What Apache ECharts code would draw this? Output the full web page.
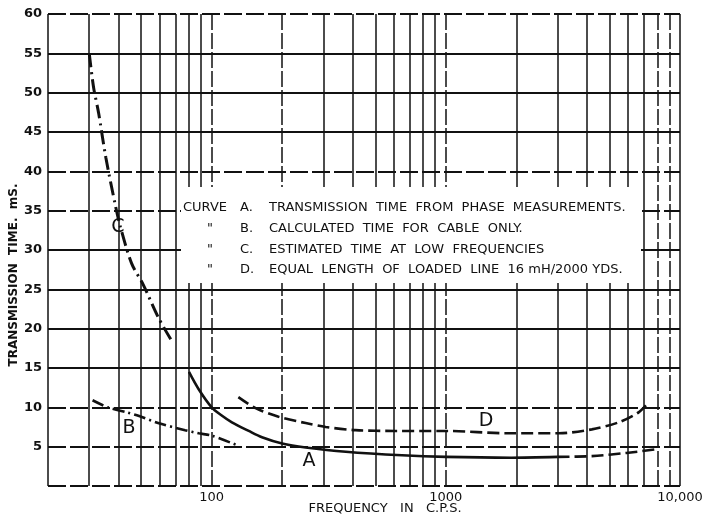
<!DOCTYPE html>
<html>
<head>
<meta charset="utf-8">
<script src="https://cdn.jsdelivr.net/npm/echarts@6/dist/echarts.min.js"></script>
<style>
  html, body { margin: 0; padding: 0; background: #fff; }
  .chart { width: 707px; height: 517px; }
</style>
</head>
<body>
<div class="chart"></div>
<script>
// curve A: transmission time from phase measurements
const freqA = [80, 88, 100, 110, 122, 144, 164, 200, 252, 374, 650, 1000, 1900, 3000]
const timeA = [14.5, 12.3, 10.0, 9.0, 8.1, 7.0, 6.2, 5.4, 4.9, 4.35, 3.9, 3.7, 3.6, 3.7]
// dashed tail of A
const freqA2 = [3000, 4200, 5900, 8100]
const timeA2 = [3.7, 3.8, 4.2, 4.7]
// curve B: calculated time for cable only
const freqB = [31, 36, 43, 49, 59, 77, 88, 100, 128]
const timeB = [10.9, 10.0, 9.4, 8.9, 8.0, 7.1, 6.7, 6.4, 5.2]
// curve C: estimated time at low frequencies
const freqC = [30, 31.3, 32.9, 35.3, 38.9, 40.8, 45.5, 51, 59, 67]
const timeC = [55.0, 50.7, 47.4, 41.8, 35.5, 32.9, 28.3, 25.6, 21.5, 18.6]
// curve D: equal length of loaded line
const freqD = [130, 154, 193, 252, 307, 412, 611, 1000, 1860, 3040, 4200, 5480, 6680, 7380]
const timeD = [11.3, 9.9, 8.8, 8.0, 7.5, 7.1, 7.0, 7.0, 6.7, 6.7, 7.2, 8.1, 9.4, 10.7]

const xTickValues = [100, 1000, 10000]
const xTickLabels = ['100', '1000', '10,000']
const xGridSolid = [20, 30, 40, 50, 60, 70, 80, 90, 300, 400, 500, 600, 700, 800, 900, 2000, 3000, 4000, 5000, 6000, 7000, 10000]
const xGridDashed = [100, 200, 1000, 8000, 9000]
const yGridSolid = [15, 20, 25, 30, 45, 50, 55]
const yGridDashed = [0, 5, 10, 35, 40, 60]

const legendRows = [
  ['CURVE', 'A.', 'TRANSMISSION  TIME  FROM  PHASE  MEASUREMENTS.'],
  ['"', 'B.', 'CALCULATED  TIME  FOR  CABLE  ONLY.'],
  ['"', 'C.', 'ESTIMATED  TIME  AT  LOW  FREQUENCIES'],
  ['"', 'D.', 'EQUAL  LENGTH  OF  LOADED  LINE  16 mH/2000 YDS.']
]

const ink = '#111'
const font = 'DejaVu Sans'
const zip = (xs, ys) => xs.map((x, i) => [x, ys[i]])

const chart = echarts.init(document.querySelector('.chart'))

const gridLines = [
  ...xGridSolid.map(v => ({ xAxis: v, lineStyle: { type: 'solid', width: 1.5 } })),
  ...xGridDashed.map(v => ({ xAxis: v, lineStyle: { type: [16, 3], width: 1.5 } })),
  ...yGridSolid.map(v => ({ yAxis: v, lineStyle: { type: 'solid', width: 2 } })),
  ...yGridDashed.map(v => ({ yAxis: v, lineStyle: { type: [18, 4], width: 2 } }))
]

const legendText = []
legendRows.forEach((row, i) => {
  const y = 208 + i * 20.7
  legendText.push(
    { type: 'text', x: row[0] === 'CURVE' ? 183 : 207, y, z: 110, style: { text: row[0], font: `13px "${font}"`, fill: ink, verticalAlign: 'middle' } },
    { type: 'text', x: 240, y, z: 110, style: { text: row[1], font: `13px "${font}"`, fill: ink, verticalAlign: 'middle' } },
    { type: 'text', x: 269, y, z: 110, style: { text: row[2], font: `13px "${font}"`, fill: ink, verticalAlign: 'middle' } }
  )
})

const curveLetter = (t, x, y) => ({
  type: 'text', x, y, z: 110,
  style: { text: t, font: `19px "${font}"`, fill: ink, align: 'center', verticalAlign: 'middle' }
})

chart.setOption({
  animation: false,
  backgroundColor: '#fff',
  grid: { left: 48, right: 27, top: 14, bottom: 31 },
  xAxis: {
    type: 'log',
    logBase: 10,
    min: 20,
    max: 10000,
    axisLine: { show: false },
    axisTick: { show: false },
    splitLine: { show: false },
    axisLabel: {
      margin: 5,
      color: ink,
      fontFamily: font,
      fontSize: 13,
      formatter: v => {
        const i = xTickValues.indexOf(Math.round(v))
        return i < 0 ? '' : xTickLabels[i]
      }
    }
  },
  yAxis: {
    type: 'value',
    min: 0,
    max: 60,
    interval: 5,
    axisLine: { show: false },
    axisTick: { show: false },
    splitLine: { show: false },
    axisLabel: {
      margin: 6,
      color: ink,
      fontFamily: font,
      fontSize: 13,
      fontWeight: 'bold',
      formatter: v => (v === 0 ? '' : String(v))
    }
  },
  graphic: [
    { type: 'rect', z: 100, shape: { x: 181, y: 187, width: 460, height: 96 }, style: { fill: '#fff' } },
    ...legendText,
    curveLetter('C', 118, 227),
    curveLetter('B', 129, 428),
    curveLetter('A', 309, 461),
    curveLetter('D', 486, 421),
    {
      type: 'text', x: 14, y: 275, rotation: Math.PI / 2, z: 110,
      style: { text: 'TRANSMISSION  TIME.  mS.', font: `bold 12px "${font}"`, fill: ink, align: 'center', verticalAlign: 'middle' }
    },
    {
      type: 'text', x: 385, y: 509, z: 110,
      style: { text: 'FREQUENCY   IN   C.P.S.', font: `13px "${font}"`, fill: ink, align: 'center', verticalAlign: 'middle' }
    }
  ],
  series: [
    {
      type: 'line',
      data: [],
      silent: true,
      markLine: {
        silent: true,
        symbol: 'none',
        label: { show: false },
        lineStyle: { color: ink },
        data: gridLines
      }
    },
    {
      name: 'A', type: 'line', smooth: 0.3, showSymbol: false, z: 5,
      lineStyle: { color: ink, width: 2.6, type: 'solid' },
      data: zip(freqA, timeA)
    },
    {
      name: 'A tail', type: 'line', smooth: 0.3, showSymbol: false, z: 5,
      lineStyle: { color: ink, width: 2.6, type: [12, 5] },
      data: zip(freqA2, timeA2)
    },
    {
      name: 'B', type: 'line', smooth: 0.3, showSymbol: false, z: 5,
      lineStyle: { color: ink, width: 2.6, type: [12, 4, 2, 4] },
      data: zip(freqB, timeB)
    },
    {
      name: 'C', type: 'line', smooth: 0.3, showSymbol: false, z: 5,
      lineStyle: { color: ink, width: 3, type: [14, 5, 2, 5] },
      data: zip(freqC, timeC)
    },
    {
      name: 'D', type: 'line', smooth: 0.3, showSymbol: false, z: 5,
      lineStyle: { color: ink, width: 2.6, type: [12, 5] },
      data: zip(freqD, timeD)
    }
  ]
})
</script>
</body>
</html>
